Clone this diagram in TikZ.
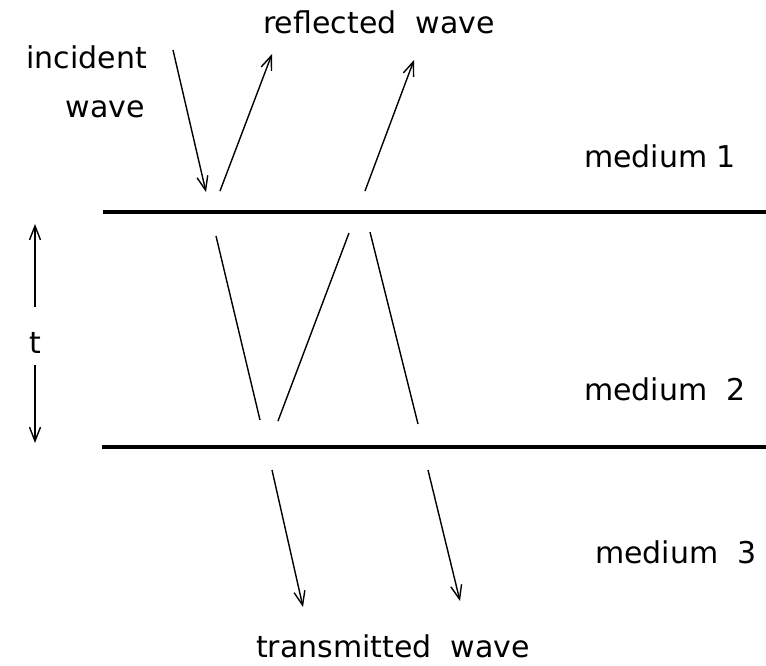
\documentclass[tikz,border=0pt]{standalone}
\usepackage{fontspec}
\setmainfont{DejaVu Sans}
\usetikzlibrary{arrows.meta}
\tikzset{
  x=1pt, y=-1pt,
  lbl/.style={font=\fontsize{30}{34}\selectfont, inner sep=0pt, anchor=base},
  iface/.style={line width=3.6pt},
  ray/.style={line width=1.4pt},
  wave/.style={ray, -{Straight Barb[length=14pt,width=11pt,line width=1.4pt]}},
}
\begin{document}
\begin{tikzpicture}
\useasboundingbox (0,0) rectangle (766,665);
% interfaces
\coordinate (i1a) at (103,212); \coordinate (i1b) at (766,212);
\coordinate (i2a) at (102,447); \coordinate (i2b) at (766,447);
\draw[iface] (i1a) -- (i1b);
\draw[iface] (i2a) -- (i2b);
% incident and reflected
\coordinate (inc0) at (173,50);  \coordinate (inc1) at (206,192);
\coordinate (r1a) at (220,191);  \coordinate (r1b) at (272,54);
\coordinate (r2a) at (365,191);  \coordinate (r2b) at (414,60);
\draw[wave] (inc0) -- (inc1);
\draw[wave] (r1a) -- (r1b);
\draw[wave] (r2a) -- (r2b);
% inside medium 2
\coordinate (m1a) at (216,236); \coordinate (m1b) at (260,420);
\coordinate (m2a) at (278,421); \coordinate (m2b) at (349,233);
\coordinate (m3a) at (370,232); \coordinate (m3b) at (418,424);
\draw[ray] (m1a) -- (m1b);
\draw[ray] (m2a) -- (m2b);
\draw[ray] (m3a) -- (m3b);
% transmitted
\coordinate (t1a) at (272,470); \coordinate (t1b) at (303,607);
\coordinate (t2a) at (428,470); \coordinate (t2b) at (460,601);
\draw[wave] (t1a) -- (t1b);
\draw[wave] (t2a) -- (t2b);
% thickness marker
\node[lbl] (tl) at (35,353) {t};
\coordinate (up0) at (35,307); \coordinate (up1) at (35,224);
\coordinate (dn0) at (35,365); \coordinate (dn1) at (35,443);
\draw[wave] (up0) -- (up1);
\draw[wave] (dn0) -- (dn1);
% labels
\node[lbl, anchor=base east] (incid) at (147,68) {incident};
\node[lbl, anchor=base east] (incw) at (145,117) {wave};
\node[lbl] (refl) at (379,33) {reflected\ \ wave};
\node[lbl] (med1) at (660,167) {medium 1};
\node[lbl] (med2) at (665,400) {medium\ \ 2};
\node[lbl] (med3) at (676,563) {medium\ \ 3};
\node[lbl] (trans) at (393,657) {transmitted\ \ wave};
\end{tikzpicture}
\end{document}
